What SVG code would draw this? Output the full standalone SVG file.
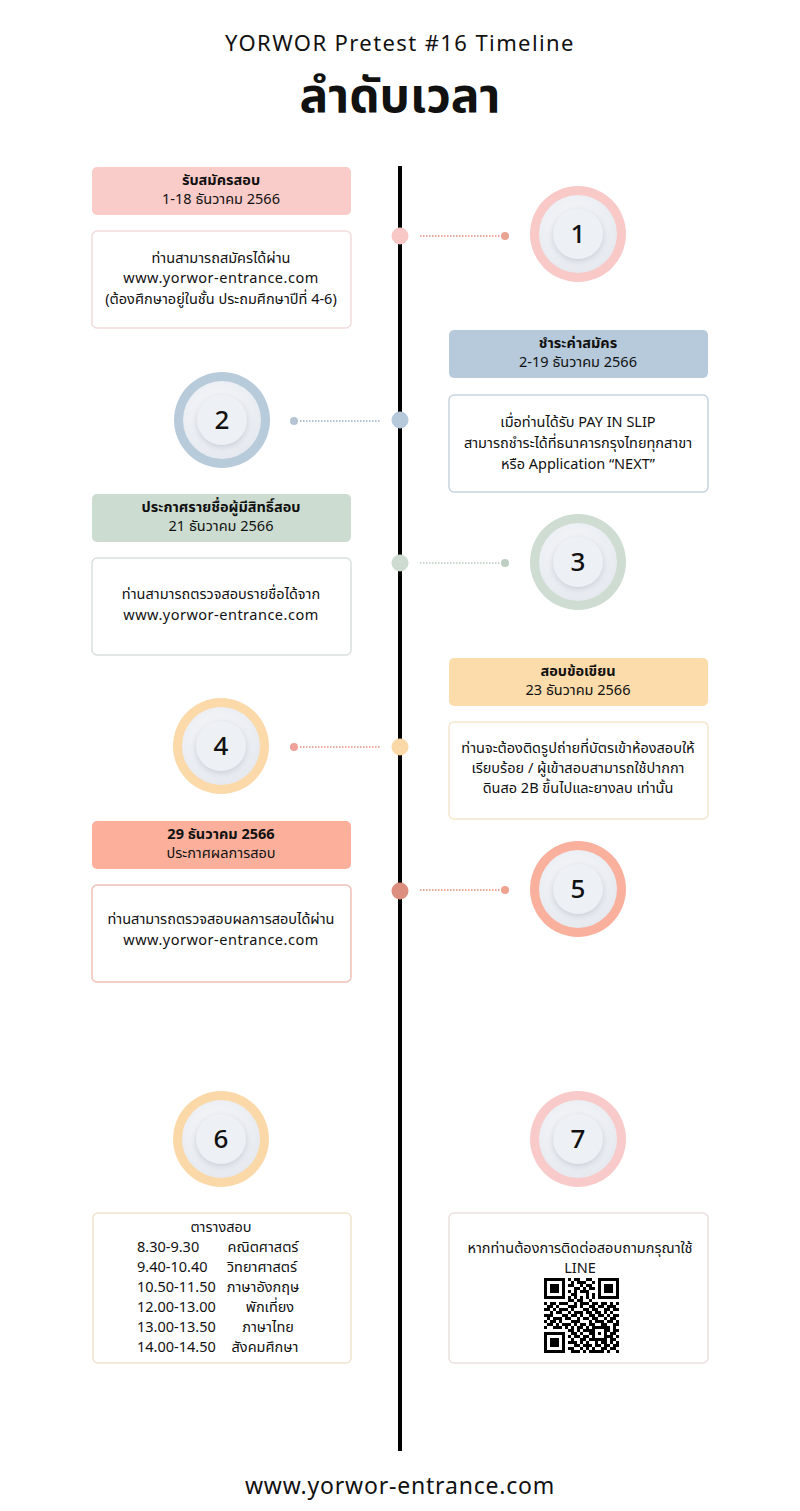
<svg xmlns="http://www.w3.org/2000/svg" xmlns:xlink="http://www.w3.org/1999/xlink" width="800" height="1511" viewBox="0 0 800 1511">
<style>
text{font-family:"Noto Sans Thai","Noto Sans","DejaVu Sans","Liberation Sans",sans-serif;fill:#111;text-anchor:middle}
.t{font-size:14.5px}
.b{font-weight:bold}
.w{letter-spacing:0.5px}
.s{text-anchor:start}
.num{font-size:26px;font-weight:500}
.body{fill:#fff;stroke-width:1.5}
.dash{stroke-width:2;stroke-dasharray:1.5 1.5;fill:none}
</style>
<defs>
<radialGradient id="pg" cx="0.45" cy="0.4" r="0.65">
<stop offset="0" stop-color="#f9fafc"/>
<stop offset="1" stop-color="#e4e8ee"/>
</radialGradient>
<filter id="sh" x="-50%" y="-50%" width="200%" height="200%">
<feDropShadow dx="0" dy="2" stdDeviation="3" flood-color="#9aa3b5" flood-opacity="0.45"/>
</filter>
<g id="plate">
<circle r="39" fill="url(#pg)"/>
<circle r="25" fill="#edf0f4" filter="url(#sh)"/>
</g>
</defs>
<rect width="800" height="1511" fill="#fff"/>

<g id="title">
<text x="400" y="51" style="font-size:22px;letter-spacing:1.4px">YORWOR Pretest #16 Timeline</text>
<text x="400" y="112" class="b" style="font-size:48px">ลำดับเวลา</text>
</g>

<g id="connectors">
<line x1="400" y1="166" x2="400" y2="1451" stroke="#000" stroke-width="4"/>
<circle cx="400" cy="236" r="8.5" fill="#f8c8c6"/>
<line x1="420" y1="236" x2="503" y2="236" class="dash" stroke="#e8a797"/>
<circle cx="505" cy="236" r="4" fill="#e9a393"/>
<circle cx="400" cy="420" r="8.5" fill="#b6c9da"/>
<line x1="300" y1="421" x2="380" y2="421" class="dash" stroke="#b2c2d0"/>
<circle cx="294" cy="421" r="4" fill="#b5c5d3"/>
<circle cx="400" cy="563" r="8.5" fill="#cddbd0"/>
<line x1="420" y1="563" x2="503" y2="563" class="dash" stroke="#c8d6cc"/>
<circle cx="505" cy="563" r="4" fill="#bdcfc2"/>
<circle cx="400" cy="747" r="8.5" fill="#fbd8a8"/>
<line x1="300" y1="747" x2="380" y2="747" class="dash" stroke="#efa99d"/>
<circle cx="294" cy="747" r="4" fill="#eea29a"/>
<circle cx="400" cy="891" r="8.5" fill="#dd8f7f"/>
<line x1="420" y1="890" x2="503" y2="890" class="dash" stroke="#eaa891"/>
<circle cx="505" cy="890" r="4" fill="#eea38e"/>
</g>

<g id="step1-box">
<rect x="92" y="167" width="259" height="48" rx="5" fill="#f9cbc9"/>
<text x="221" y="185" class="t b">รับสมัครสอบ</text>
<text x="221" y="204" class="t">1-18 ธันวาคม 2566</text>
<rect x="92" y="231" width="259" height="97" rx="5" class="body" stroke="#f2dcdb"/>
<text x="221" y="263" class="t">ท่านสามารถสมัครได้ผ่าน</text>
<text x="221" y="283" class="t w">www.yorwor-entrance.com</text>
<text x="221" y="304" class="t">(ต้องศึกษาอยู่ในชั้น ประถมศึกษาปีที่ 4-6)</text>
</g>
<g id="step1-circle">
<circle cx="578" cy="234" r="48" fill="#f8c9c7"/>
<use xlink:href="#plate" href="#plate" x="578" y="234"/>
<text x="578" y="243" class="num">1</text>
</g>

<g id="step2-box">
<rect x="449" y="330" width="259" height="48" rx="5" fill="#b6cadb"/>
<text x="578" y="348" class="t b">ชำระค่าสมัคร</text>
<text x="578" y="367" class="t">2-19 ธันวาคม 2566</text>
<rect x="449" y="395" width="259" height="97" rx="5" class="body" stroke="#c5d3de"/>
<text x="578" y="427" class="t">เมื่อท่านได้รับ PAY IN SLIP</text>
<text x="578" y="448" class="t">สามารถชำระได้ที่ธนาคารกรุงไทยทุกสาขา</text>
<text x="578" y="469" class="t">หรือ Application “NEXT”</text>
</g>
<g id="step2-circle">
<circle cx="222" cy="420" r="48" fill="#b7cbdb"/>
<use xlink:href="#plate" href="#plate" x="222" y="420"/>
<text x="222" y="429" class="num">2</text>
</g>

<g id="step3-box">
<rect x="92" y="494" width="259" height="48" rx="5" fill="#cddcd0"/>
<text x="221" y="512" class="t b">ประกาศรายชื่อผู้มีสิทธิ์สอบ</text>
<text x="221" y="531" class="t">21 ธันวาคม 2566</text>
<rect x="92" y="558" width="259" height="97" rx="5" class="body" stroke="#d9e0dc"/>
<text x="221" y="599" class="t">ท่านสามารถตรวจสอบรายชื่อได้จาก</text>
<text x="221" y="620" class="t w">www.yorwor-entrance.com</text>
</g>
<g id="step3-circle">
<circle cx="578" cy="562" r="48" fill="#cedcd1"/>
<use xlink:href="#plate" href="#plate" x="578" y="562"/>
<text x="578" y="571" class="num">3</text>
</g>

<g id="step4-box">
<rect x="449" y="658" width="259" height="48" rx="5" fill="#fcdcaa"/>
<text x="578" y="676" class="t b">สอบข้อเขียน</text>
<text x="578" y="695" class="t">23 ธันวาคม 2566</text>
<rect x="449" y="722" width="259" height="97" rx="5" class="body" stroke="#f5e6cc"/>
<text x="578" y="753" class="t">ท่านจะต้องติดรูปถ่ายที่บัตรเข้าห้องสอบให้</text>
<text x="578" y="773" class="t">เรียบร้อย / ผู้เข้าสอบสามารถใช้ปากกา</text>
<text x="578" y="793" class="t">ดินสอ 2B ขึ้นไปและยางลบ เท่านั้น</text>
</g>
<g id="step4-circle">
<circle cx="221" cy="746" r="48" fill="#fbd9a9"/>
<use xlink:href="#plate" href="#plate" x="221" y="746"/>
<text x="221" y="755" class="num">4</text>
</g>

<g id="step5-box">
<rect x="92" y="821" width="259" height="48" rx="5" fill="#fcb09b"/>
<text x="221" y="839" class="t b">29 ธันวาคม 2566</text>
<text x="221" y="858" class="t">ประกาศผลการสอบ</text>
<rect x="92" y="885" width="259" height="97" rx="5" class="body" stroke="#efc0b5"/>
<text x="221" y="924" class="t">ท่านสามารถตรวจสอบผลการสอบได้ผ่าน</text>
<text x="221" y="945" class="t w">www.yorwor-entrance.com</text>
</g>
<g id="step5-circle">
<circle cx="578" cy="889" r="48" fill="#f9b09c"/>
<use xlink:href="#plate" href="#plate" x="578" y="889"/>
<text x="578" y="898" class="num">5</text>
</g>

<g id="step6-circle">
<circle cx="221" cy="1139" r="48" fill="#fbd8a8"/>
<use xlink:href="#plate" href="#plate" x="221" y="1139"/>
<text x="221" y="1148" class="num">6</text>
</g>
<g id="step7-circle">
<circle cx="578" cy="1139" r="48" fill="#f8cbca"/>
<use xlink:href="#plate" href="#plate" x="578" y="1139"/>
<text x="578" y="1148" class="num">7</text>
</g>

<g id="schedule-box">
<rect x="93" y="1213" width="258" height="150" rx="5" class="body" stroke="#f1e4cc"/>
<text x="221" y="1232" class="t">ตารางสอบ</text>
<text x="137" y="1252" class="t s">8.30-9.30</text>
<text x="263" y="1252" class="t">คณิตศาสตร์</text>
<text x="137" y="1272" class="t s">9.40-10.40</text>
<text x="262" y="1272" class="t">วิทยาศาสตร์</text>
<text x="137" y="1292" class="t s">10.50-11.50</text>
<text x="263" y="1292" class="t">ภาษาอังกฤษ</text>
<text x="137" y="1312" class="t s">12.00-13.00</text>
<text x="270" y="1312" class="t">พักเที่ยง</text>
<text x="137" y="1332" class="t s">13.00-13.50</text>
<text x="268" y="1332" class="t">ภาษาไทย</text>
<text x="137" y="1352" class="t s">14.00-14.50</text>
<text x="265" y="1352" class="t">สังคมศึกษา</text>
</g>

<g id="contact-box">
<rect x="449" y="1213" width="259" height="150" rx="5" class="body" stroke="#ece0e0"/>
<text x="580" y="1253" class="t">หากท่านต้องการติดต่อสอบถามกรุณาใช้</text>
<text x="580" y="1273" class="t">LINE</text>
<g transform="translate(544,1278) scale(3)" shape-rendering="crispEdges">
<path fill="#000" d="M0 0h7v1h-7zM8 0h1v1h-1zM10 0h2v1h-2zM14 0h2v1h-2zM18 0h7v1h-7z
M0 1h1v1h-1zM6 1h1v1h-1zM9 1h1v1h-1zM11 1h3v1h-3zM16 1h1v1h-1zM18 1h1v1h-1zM24 1h1v1h-1z
M0 2h1v1h-1zM2 2h3v1h-3zM6 2h1v1h-1zM8 2h2v1h-2zM12 2h1v1h-1zM14 2h2v1h-2zM18 2h1v1h-1zM20 2h3v1h-3zM24 2h1v1h-1z
M0 3h1v1h-1zM2 3h3v1h-3zM6 3h1v1h-1zM10 3h2v1h-2zM13 3h1v1h-1zM15 3h2v1h-2zM18 3h1v1h-1zM20 3h3v1h-3zM24 3h1v1h-1z
M0 4h1v1h-1zM2 4h3v1h-3zM6 4h1v1h-1zM8 4h1v1h-1zM10 4h1v1h-1zM12 4h3v1h-3zM18 4h1v1h-1zM20 4h3v1h-3zM24 4h1v1h-1z
M0 5h1v1h-1zM6 5h1v1h-1zM9 5h2v1h-2zM14 5h1v1h-1zM16 5h1v1h-1zM18 5h1v1h-1zM24 5h1v1h-1z
M0 6h7v1h-7zM8 6h1v1h-1zM10 6h1v1h-1zM12 6h1v1h-1zM14 6h1v1h-1zM16 6h1v1h-1zM18 6h7v1h-7z
M8 7h2v1h-2zM11 7h2v1h-2zM15 7h1v1h-1z
M0 8h1v1h-1zM2 8h2v1h-2zM5 8h3v1h-3zM10 8h1v1h-1zM12 8h3v1h-3zM16 8h2v1h-2zM19 8h2v1h-2zM22 8h1v1h-1zM24 8h1v1h-1z
M1 9h2v1h-2zM4 9h1v1h-1zM8 9h3v1h-3zM12 9h1v1h-1zM15 9h2v1h-2zM18 9h2v1h-2zM21 9h3v1h-3z
M0 10h2v1h-2zM3 10h1v1h-1zM5 10h3v1h-3zM9 10h1v1h-1zM13 10h2v1h-2zM16 10h2v1h-2zM20 10h2v1h-2zM23 10h2v1h-2z
M2 11h1v1h-1zM4 11h2v1h-2zM8 11h1v1h-1zM10 11h3v1h-3zM14 11h2v1h-2zM17 11h2v1h-2zM20 11h1v1h-1zM22 11h1v1h-1z
M0 12h3v1h-3zM6 12h2v1h-2zM9 12h2v1h-2zM12 12h1v1h-1zM15 12h2v1h-2zM18 12h2v1h-2zM21 12h1v1h-1zM23 12h2v1h-2z
M1 13h1v1h-1zM3 13h3v1h-3zM7 13h2v1h-2zM11 13h1v1h-1zM13 13h2v1h-2zM16 13h2v1h-2zM20 13h1v1h-1zM22 13h2v1h-2z
M0 14h1v1h-1zM2 14h2v1h-2zM5 14h1v1h-1zM9 14h3v1h-3zM15 14h1v1h-1zM17 14h3v1h-3zM21 14h2v1h-2zM24 14h1v1h-1z
M1 15h2v1h-2zM4 15h1v1h-1zM6 15h3v1h-3zM10 15h1v1h-1zM12 15h2v1h-2zM15 15h2v1h-2zM19 15h2v1h-2zM23 15h2v1h-2z
M0 16h1v1h-1zM3 16h3v1h-3zM7 16h1v1h-1zM9 16h1v1h-1zM11 16h2v1h-2zM14 16h1v1h-1zM16 16h6v1h-6zM23 16h1v1h-1z
M8 17h2v1h-2zM11 17h1v1h-1zM13 17h4v1h-4zM20 17h2v1h-2zM23 17h2v1h-2z
M0 18h7v1h-7zM9 18h2v1h-2zM12 18h1v1h-1zM15 18h2v1h-2zM18 18h1v1h-1zM20 18h1v1h-1zM22 18h2v1h-2z
M0 19h1v1h-1zM6 19h1v1h-1zM8 19h1v1h-1zM10 19h2v1h-2zM13 19h2v1h-2zM16 19h1v1h-1zM20 19h3v1h-3zM24 19h1v1h-1z
M0 20h1v1h-1zM2 20h3v1h-3zM6 20h1v1h-1zM9 20h1v1h-1zM12 20h2v1h-2zM15 20h6v1h-6zM22 20h2v1h-2z
M0 21h1v1h-1zM2 21h3v1h-3zM6 21h1v1h-1zM8 21h3v1h-3zM12 21h1v1h-1zM14 21h1v1h-1zM17 21h1v1h-1zM19 21h2v1h-2zM22 21h1v1h-1zM24 21h1v1h-1z
M0 22h1v1h-1zM2 22h3v1h-3zM6 22h1v1h-1zM10 22h2v1h-2zM13 22h3v1h-3zM17 22h2v1h-2zM20 22h2v1h-2zM23 22h2v1h-2z
M0 23h1v1h-1zM6 23h1v1h-1zM8 23h2v1h-2zM12 23h1v1h-1zM14 23h1v1h-1zM16 23h1v1h-1zM19 23h2v1h-2zM22 23h2v1h-2z
M0 24h7v1h-7zM9 24h3v1h-3zM13 24h1v1h-1zM15 24h5v1h-5zM21 24h1v1h-1zM24 24h1v1h-1z"/>
</g>
</g>

<g id="footer">
<text x="400" y="1494" style="font-size:23px;letter-spacing:0.8px">www.yorwor-entrance.com</text>
</g>
</svg>
